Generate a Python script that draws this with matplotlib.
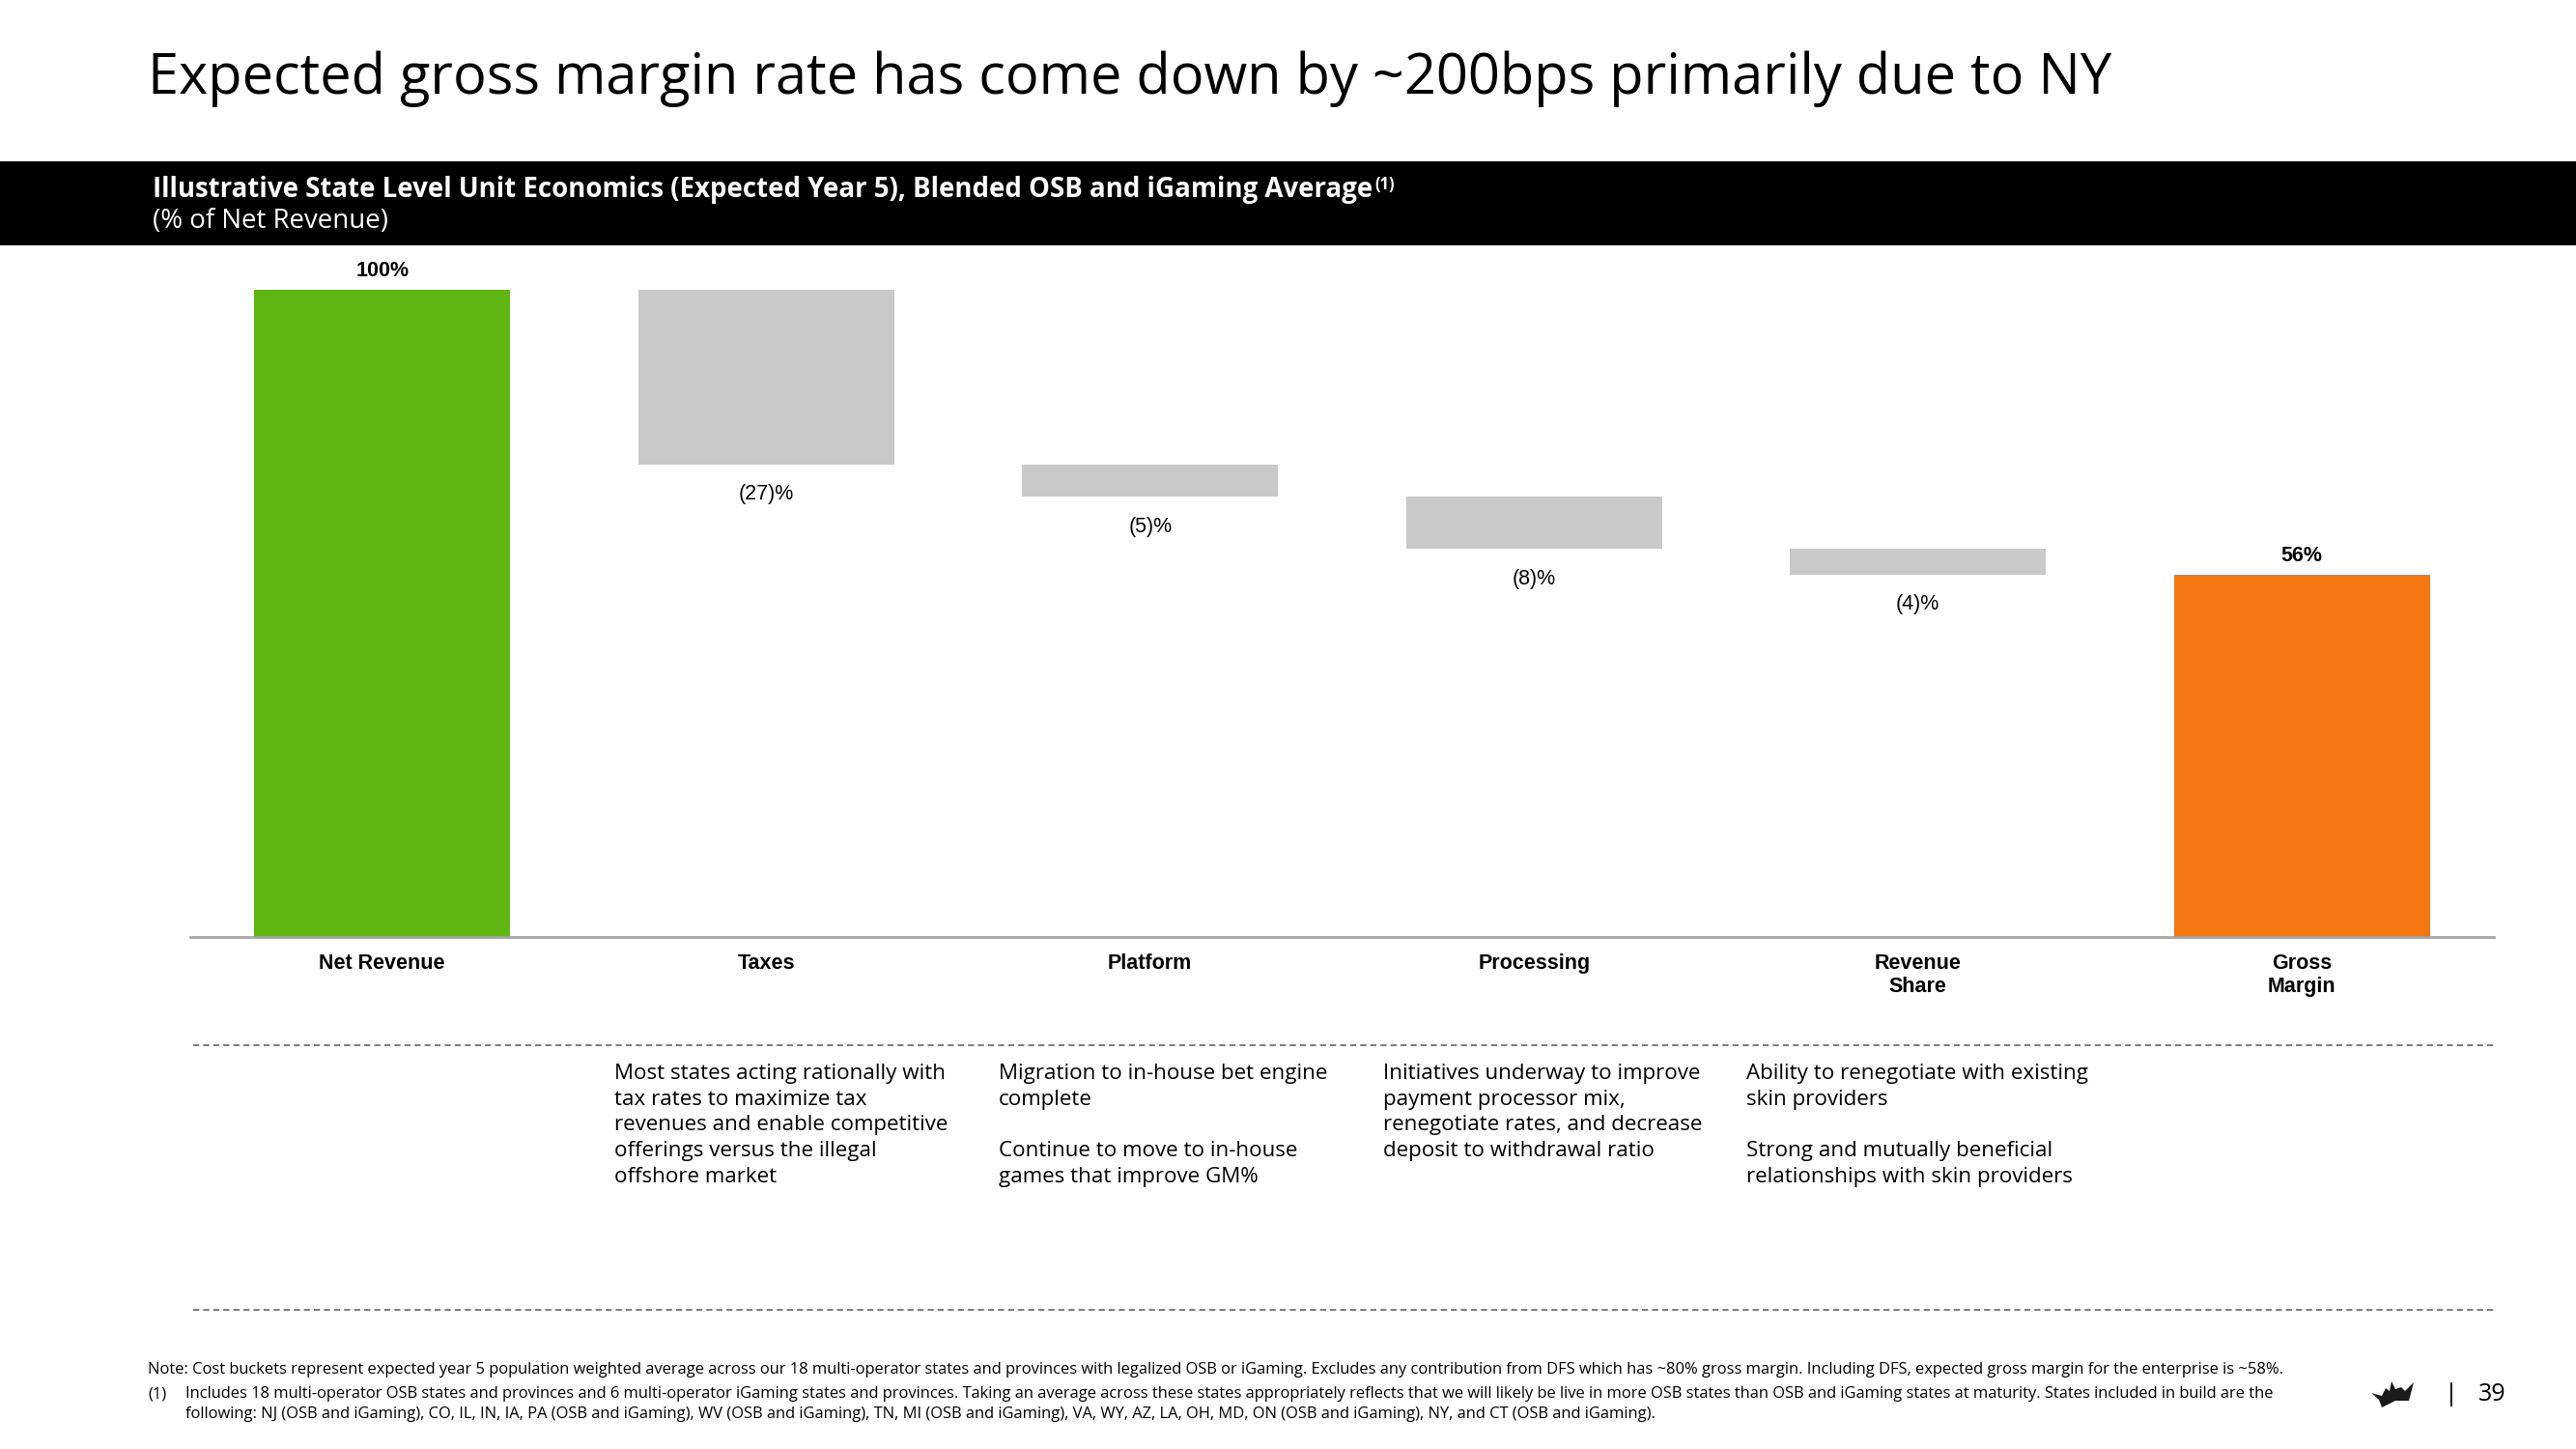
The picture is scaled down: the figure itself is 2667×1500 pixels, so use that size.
import matplotlib.pyplot as plt
import numpy as np
from matplotlib.lines import Line2D
from matplotlib.patches import Polygon

W, H = 2667, 1500

categories = ['Net Revenue', 'Taxes', 'Platform', 'Processing', 'Revenue\nShare', 'Gross\nMargin']
steps = [100, -27, -5, -8, -4]          # start value and the cost buckets
value_labels = ['100%', '(27)%', '(5)%', '(8)%', '(4)%', '56%']

descriptions = [
    None,
    ['Most states acting rationally with', 'tax rates to maximize tax',
     'revenues and enable competitive', 'offerings versus the illegal', 'offshore market'],
    ['Migration to in-house bet engine', 'complete', '',
     'Continue to move to in-house', 'games that improve GM%'],
    ['Initiatives underway to improve', 'payment processor mix,',
     'renegotiate rates, and decrease', 'deposit to withdrawal ratio'],
    ['Ability to renegotiate with existing', 'skin providers', '',
     'Strong and mutually beneficial', 'relationships with skin providers'],
    None,
]

title = 'Expected gross margin rate has come down by ~200bps primarily due to NY'
header = 'Illustrative State Level Unit Economics (Expected Year 5), Blended OSB and iGaming Average'
subheader = '(% of Net Revenue)'
note = ('Note: Cost buckets represent expected year 5 population weighted average across our 18 multi-operator '
        'states and provinces with legalized OSB or iGaming. Excludes any contribution from DFS which has ~80% '
        'gross margin. Including DFS, expected gross margin for the enterprise is ~58%.')
foot1 = ('Includes 18 multi-operator OSB states and provinces and 6 multi-operator iGaming states and provinces. '
         'Taking an average across these states appropriately reflects that we will likely be live in more OSB '
         'states than OSB and iGaming states at maturity. States included in build are the')
foot2 = ('following: NJ (OSB and iGaming), CO, IL, IN, IA, PA (OSB and iGaming), WV (OSB and iGaming), TN, '
         'MI (OSB and iGaming), VA, WY, AZ, LA, OH, MD, ON (OSB and iGaming), NY, and CT (OSB and iGaming).')

GREEN = '#61B512'
ORANGE = '#F57712'
GREY = '#C9C9C9'

SANS = ['Open Sans', 'DejaVu Sans']
ARIAL = ['Liberation Sans', 'DejaVu Sans']


def fx(x):
    return x / W


def fy(y):
    return 1 - y / H


fig = plt.figure(figsize=(W / 100, H / 100), dpi=100)
fig.patch.set_facecolor('white')

# title and black header band
fig.text(fx(153), fy(97), title, fontsize=41.6, family=SANS, va='baseline', ha='left', color='black')
fig.add_artist(plt.Rectangle((0, fy(254)), 1, (254 - 167) / H, transform=fig.transFigure,
                             facecolor='black', edgecolor='none'))
htxt = fig.text(fx(158), fy(204), header, fontsize=19.9, family=SANS, weight='bold',
                color='white', va='baseline', ha='left')
fig.text(fx(158), fy(236), subheader, fontsize=19.9, family=SANS, color='white', va='baseline', ha='left')
fig.canvas.draw()
bb = htxt.get_window_extent().transformed(fig.transFigure.inverted())
fig.text(bb.x1 + 0.0008, fy(196), '(1)', fontsize=12, family=SANS, weight='bold',
         color='white', va='baseline', ha='left')

# waterfall
ax = fig.add_axes([fx(197), fy(970), (2582 - 197) / W, 670 / H])
x = np.arange(len(categories))
total = sum(steps)
tops = np.cumsum(steps)
heights = [steps[0]] + [-s for s in steps[1:]] + [total]
bottoms = [0] + list(tops[1:]) + [0]
colors = [GREEN] + [GREY] * (len(steps) - 1) + [ORANGE]
bars = ax.bar(x, heights, bottom=bottoms, width=0.667, color=colors, edgecolor='none')

for i, b in enumerate(bars):
    if i == 0 or i == len(bars) - 1:
        ax.annotate(value_labels[i], (b.get_x() + b.get_width() / 2, b.get_y() + b.get_height()),
                    xytext=(0, 19), textcoords='offset pixels', ha='center', va='center',
                    fontsize=15.5, family=ARIAL, weight='bold')
    else:
        ax.annotate(value_labels[i], (b.get_x() + b.get_width() / 2, b.get_y()),
                    xytext=(0, -31), textcoords='offset pixels', ha='center', va='center',
                    fontsize=15.5, family=ARIAL)

ax.set_xlim(-0.5, 5.5)
ax.set_ylim(0, 100)
ax.set_xticks(x)
ax.set_xticklabels(categories, fontsize=15.5, family=ARIAL, weight='bold', va='top')
ax.tick_params(axis='x', length=0, pad=12)
ax.set_yticks([])
for s in ['left', 'right', 'top']:
    ax.spines[s].set_visible(False)
ax.spines['bottom'].set_color('#A6A6A6')
ax.spines['bottom'].set_linewidth(2)
ax.patch.set_alpha(0)

# dashed separators
for yy in [1082, 1356]:
    fig.add_artist(Line2D([fx(200), fx(2582)], [fy(yy), fy(yy)], transform=fig.transFigure,
                          color='#7F7F7F', linewidth=1.5, linestyle=(0, (3, 2))))

# commentary under each bucket
col_x = [None, 636, 1034, 1432, 1808, None]
for cx, lines in zip(col_x, descriptions):
    if lines is None:
        continue
    for j, line in enumerate(lines):
        fig.text(fx(cx), fy(1117 + j * 26.7), line, fontsize=16.1, family=SANS,
                 va='baseline', ha='left', color='black')

# footnotes
fig.text(fx(153), fy(1422), note, fontsize=11.9, family=SANS, va='baseline', ha='left')
fig.text(fx(153), fy(1447), '(1)', fontsize=11.9, family=SANS, va='baseline', ha='left')
fig.text(fx(192), fy(1447), foot1, fontsize=11.9, family=SANS, va='baseline', ha='left')
fig.text(fx(192), fy(1468), foot2, fontsize=11.9, family=SANS, va='baseline', ha='left')

# logo and page number
crown = [(2455, 1442), (2466, 1445), (2470, 1437), (2474, 1440), (2476, 1430), (2480, 1438),
         (2486, 1436), (2490, 1440), (2499, 1431), (2494, 1450), (2480, 1450), (2466, 1457),
         (2463, 1449)]
fig.add_artist(Polygon([(fx(a), fy(b)) for a, b in crown], closed=True, transform=fig.transFigure,
                       facecolor='#1A1A1A', edgecolor='none'))
fig.text(fx(2538), fy(1443), '|', fontsize=18, family=SANS, va='center', ha='center')
fig.text(fx(2566), fy(1443), '39', fontsize=18, family=SANS, va='center', ha='left')

fig.savefig('out.png', dpi=100)
